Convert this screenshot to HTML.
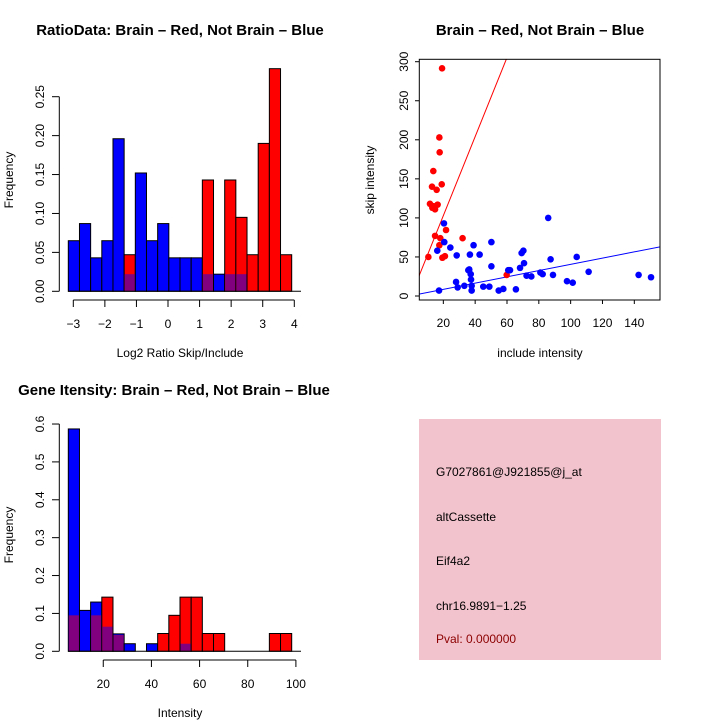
<!DOCTYPE html>
<html><head><meta charset="utf-8"><style>
html,body{margin:0;padding:0;background:#fff}
svg{display:block;font-family:"Liberation Sans",sans-serif}
</style></head><body>
<svg id="s" width="720" height="720" viewBox="0 0 720 720">
<rect x="0" y="0" width="720" height="720" fill="#fff"/>
<g>
<rect x="419" y="419" width="242" height="241" fill="#f3c3cd"/>
<text x="436" y="476" font-size="12" fill="#000">G7027861@J921855@j_at</text>
<text x="436" y="521" font-size="12" fill="#000">altCassette</text>
<text x="436" y="565" font-size="12" fill="#000">Eif4a2</text>
<text x="436" y="610" font-size="12" fill="#000">chr16.9891−1.25</text>
<text x="436" y="643" font-size="12" fill="#8b0000">Pval: 0.000000</text>
</g>
</svg>
<script>
// ---- Chart 1: ratio histogram
const ratioBlue=[0.065,0.087,0.043,0.065,0.196,0.022,0.152,0.065,0.087,0.043,0.043,0.043,0.022,0.022,0.022,0.022,0,0,0,0];
const ratioRed=[0,0,0,0,0,0.047,0,0,0,0,0,0,0.143,0,0.143,0.095,0.047,0.19,0.286,0.047];
const ratioXTicks=[-3,-2,-1,0,1,2,3,4];
const ratioYTicks=["0.00","0.05","0.10","0.15","0.20","0.25"];
// ---- Chart 2: scatter
const redX=[19.2,17.5,17.7,13.7,12.9,19,15.8,11.6,13.1,14.8,16.4,13.7,14.8,18.1,17.5,21.7,32.1,10.6,19.4,21,59.8];
const redY=[291.5,203,184,160,140,143,136,118,113,111,117,115,77,74,65,84.5,74,50,49,51,27];
const blueX=[20.4,20.6,16.2,24.4,28.4,28,29,33.2,17.3,35.7,36.3,36.7,37.2,37.4,37.8,37.8,39,42.8,45.1,48.9,50.2,50.2,54.8,57.7,60.8,61.9,65.6,68.2,69.2,70.3,70.7,72.3,75.3,81,82.4,85.9,87.4,88.9,97.7,101.3,103.8,111.3,142.7,150.5];
const blueY=[93,69,58,62,52,18,11,13,7,33,34,53,28,21,13,7,65,53,12,12,69,38,7,9,33,33,8.5,36,55,58,42,26,25,30,28,100,47,27,19,17,50,31,27,24];
const redFit=[1.7,5.06];
const blueFit=[0.5,0.4];
const scXTicks=[20,40,60,80,100,120,140];
const scYTicks=[0,50,100,150,200,250,300];
// ---- Chart 3: intensity histogram
const intBlue=[0.587,0.108,0.13,0.065,0.046,0.02,0,0.02,0,0,0.02,0,0,0,0,0,0,0,0,0];
const intRed=[0.095,0,0.095,0.143,0.043,0,0,0,0.047,0.095,0.143,0.143,0.047,0.047,0,0,0,0,0.047,0.047];
const intXTicks=[20,40,60,80,100];
const intYTicks=["0.0","0.1","0.2","0.3","0.4","0.5","0.6"];

const svg=document.getElementById('s');
const NS='http://www.w3.org/2000/svg';
function mk(tag,attrs,parent){const e=document.createElementNS(NS,tag);for(const k in attrs)e.setAttribute(k,attrs[k]);(parent||svg).appendChild(e);return e;}
function txt(x,y,s,size,parent,rot,anchor,bold){const e=mk('text',{x:x,y:y,'font-size':size,'text-anchor':anchor||'middle',fill:'#000'},parent);if(bold)e.setAttribute('font-weight','bold');if(rot)e.setAttribute('transform','rotate(-90 '+x+' '+y+')');e.textContent=s;return e;}

function hist(name,blue,red,x0,binW,yScale,y0,g){
  for(let i=0;i<blue.length;i++){
    const b=blue[i],r=red[i];const hi=Math.max(b,r),lo=Math.min(b,r);
    if(hi<=0)continue;
    const x=x0+i*binW;
    const rect=mk('rect',{x:x,y:yScale(hi),width:binW,height:y0-yScale(hi),fill:r>b?'#ff0000':'#0000ff',stroke:'#000','stroke-width':1},g);
    
    
    if(lo>0){const p=mk('rect',{x:x+0.5,y:yScale(lo),width:binW-1,height:y0-yScale(lo)-0.5,fill:'#800080'},g);
      
      }
  }
}

// Chart 1
{
  const g=mk('g',{});
  
  
  const y=v=>291.3-v*778.4;
  const x=v=>73.3+(v+3)*31.57;
  hist('ratio',ratioBlue,ratioRed,68.3,11.17,y,291.3,g);
  mk('line',{x1:68,y1:291.3,x2:301,y2:291.3,stroke:'#000'},g);
  mk('line',{x1:59.3,y1:y(0),x2:59.3,y2:y(0.25),stroke:'#000'},g);
  ratioYTicks.forEach(t=>{const v=parseFloat(t);mk('line',{x1:52,y1:y(v),x2:59.3,y2:y(v),stroke:'#000'},g);txt(44,y(v),t,12,g,true);});
  mk('line',{x1:x(-3),y1:300,x2:x(4),y2:300,stroke:'#000'},g);
  ratioXTicks.forEach(v=>{mk('line',{x1:x(v),y1:300,x2:x(v),y2:307,stroke:'#000'},g);txt(x(v),328,String(v).replace('-','−'),12,g);});
  txt(180,357,'Log2 Ratio Skip/Include',12,g);
  txt(13,180,'Frequency',12,g,true);
  txt(180,35,'RatioData: Brain – Red, Not Brain – Blue',15,g,false,'middle',true);
}
// Chart 2
{
  const g=mk('g',{});
  
  
  const x=v=>411.5+v*1.5915;
  const y=v=>296-v*0.781;
  const cp=mk('clipPath',{id:'cp'},g);mk('rect',{x:419.3,y:59.3,width:240.7,height:240.7},cp);
  const lg=mk('g',{'clip-path':'url(#cp)'},g);
  const l1=mk('line',{x1:x(0),y1:y(redFit[0]),x2:x(160),y2:y(redFit[0]+redFit[1]*160),stroke:'#ff0000'},lg);
  
  
  const l2=mk('line',{x1:x(0),y1:y(blueFit[0]),x2:x(160),y2:y(blueFit[0]+blueFit[1]*160),stroke:'#0000ff'},lg);
  
  
  redX.forEach((v,i)=>{const c=mk('circle',{cx:x(v),cy:y(redY[i]),r:3.3,fill:'#ff0000'},g);
    
    });
  blueX.forEach((v,i)=>{const c=mk('circle',{cx:x(v),cy:y(blueY[i]),r:3.3,fill:'#0000ff'},g);
    
    });
  mk('rect',{x:419.3,y:59.3,width:240.7,height:240.7,fill:'none',stroke:'#000'},g);
  scYTicks.forEach(v=>{mk('line',{x1:415,y1:y(v),x2:419.3,y2:y(v),stroke:'#000'},g);txt(408,y(v),String(v),12,g,true);});
  scXTicks.forEach(v=>{mk('line',{x1:x(v),y1:300,x2:x(v),y2:304,stroke:'#000'},g);txt(x(v),327,String(v),12,g);});
  txt(540,357,'include intensity',12,g);
  txt(374,180,'skip intensity',12,g,true);
  txt(540,35,'Brain – Red, Not Brain – Blue',15,g,false,'middle',true);
}
// Chart 3
{
  const g=mk('g',{});
  
  
  const y=v=>651.3-v*378.8;
  const x=v=>55.1+v*2.408;
  hist('intensity',intBlue,intRed,68.3,11.17,y,651.3,g);
  mk('line',{x1:68,y1:651.3,x2:301,y2:651.3,stroke:'#000'},g);
  mk('line',{x1:59.3,y1:y(0),x2:59.3,y2:y(0.6),stroke:'#000'},g);
  intYTicks.forEach(t=>{const v=parseFloat(t);mk('line',{x1:52,y1:y(v),x2:59.3,y2:y(v),stroke:'#000'},g);txt(44,y(v),t,12,g,true);});
  mk('line',{x1:x(20),y1:660,x2:x(100),y2:660,stroke:'#000'},g);
  intXTicks.forEach(v=>{mk('line',{x1:x(v),y1:660,x2:x(v),y2:667,stroke:'#000'},g);txt(x(v),688,String(v),12,g);});
  txt(180,717,'Intensity',12,g);
  txt(13,535,'Frequency',12,g,true);
  txt(174,395,'Gene Itensity: Brain – Red, Not Brain – Blue',15,g,false,'middle',true);
}
</script>
</body></html>
